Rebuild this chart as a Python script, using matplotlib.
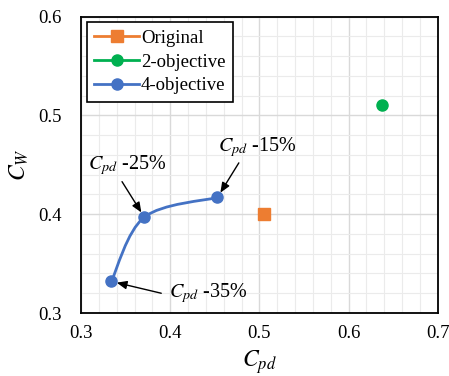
import matplotlib
matplotlib.use("Agg")
import matplotlib.pyplot as plt
from matplotlib.path import Path
from matplotlib.patches import PathPatch
from matplotlib.ticker import MultipleLocator, FormatStrFormatter
import numpy as np

plt.rcParams['font.family'] = ['Liberation Serif', 'DejaVu Serif']
plt.rcParams['mathtext.fontset'] = 'stix'

# Data
orig_x = [0.505]
orig_y = [0.400]
two_x = [0.638]
two_y = [0.511]
four_x = [0.334, 0.371, 0.453]
four_y = [0.332, 0.397, 0.417]
four_labels = [r'$C_{pd}$ -35%', r'$C_{pd}$ -25%', r'$C_{pd}$ -15%']
label_pos = [(0.443, 0.320), (0.352, 0.450), (0.497, 0.468)]
arrow_start = [(0.390, 0.320), (0.346, 0.433), (0.477, 0.452)]

c_orig = '#ED7D31'
c_two = '#00B050'
c_four = '#4472C4'

fig = plt.figure(figsize=(4.49, 3.76), dpi=100)
ax = fig.add_axes([81/449, 1-313/376, (437.7-81)/449, (313-16.7)/376])

ax.set_xlim(0.3, 0.7)
ax.set_ylim(0.3, 0.6)
ax.xaxis.set_major_locator(MultipleLocator(0.1))
ax.yaxis.set_major_locator(MultipleLocator(0.1))
ax.xaxis.set_minor_locator(MultipleLocator(0.02))
ax.yaxis.set_minor_locator(MultipleLocator(0.02))
ax.xaxis.set_major_formatter(FormatStrFormatter('%.1f'))
ax.yaxis.set_major_formatter(FormatStrFormatter('%.1f'))
ax.grid(which='major', color='#d9d9d9', lw=1.0)
ax.grid(which='minor', color='#ebebeb', lw=0.8)
ax.set_axisbelow(True)
ax.tick_params(which='both', length=0, labelsize=13.5)
ax.tick_params(axis='x', pad=9)
ax.tick_params(axis='y', pad=14)
for s in ax.spines.values():
    s.set_color('black')
    s.set_linewidth(1.3)

# smooth curve (Catmull-Rom via Bezier)
P = np.column_stack([four_x, four_y])
verts = [P[0]]
codes = [Path.MOVETO]
n = len(P)
for i in range(n - 1):
    p0 = P[i - 1] if i > 0 else P[i]
    p1 = P[i]
    p2 = P[i + 1]
    p3 = P[i + 2] if i + 2 < n else P[i + 1]
    c1 = p1 + (p2 - p0) / 6
    c2 = p2 - (p3 - p1) / 6
    verts += [c1, c2, p2]
    codes += [Path.CURVE4] * 3
ax.add_patch(PathPatch(Path(verts, codes), facecolor='none', edgecolor=c_four, lw=2, zorder=3))

ax.plot(orig_x, orig_y, 's', color=c_orig, ms=8, zorder=4)
ax.plot(two_x, two_y, 'o', color=c_two, ms=8, zorder=4)
ax.plot(four_x, four_y, 'o', color=c_four, ms=8, zorder=4)

# legend handles
h1, = ax.plot([], [], '-s', color=c_orig, ms=8, lw=2, label='Original')
h2, = ax.plot([], [], '-o', color=c_two, ms=8, lw=2, label='2-objective')
h3, = ax.plot([], [], '-o', color=c_four, ms=8, lw=2, label='4-objective')
leg = ax.legend(handles=[h1, h2, h3], loc='upper left', fontsize=13.5, frameon=True,
                fancybox=False, edgecolor='black', framealpha=1, handlelength=2.4,
                handletextpad=0.1, borderaxespad=0.3, labelspacing=0.35,
                borderpad=0.4)
leg.get_frame().set_linewidth(1.2)

for (x, y), lab, tp, st in zip(zip(four_x, four_y), four_labels, label_pos, arrow_start):
    ax.text(tp[0], tp[1], lab, fontsize=14.5, ha='center', va='center', zorder=5)
    ax.annotate('', xy=(x, y), xytext=st,
                arrowprops=dict(arrowstyle='-|>,head_length=0.6,head_width=0.25',
                                color='black', lw=1.0, shrinkA=0, shrinkB=4))

ax.set_xlabel(r'$C_{pd}$', fontsize=17, labelpad=4)
ax.set_ylabel(r'$C_W$', fontsize=17, labelpad=5)

fig.savefig('out.png', dpi=100)
